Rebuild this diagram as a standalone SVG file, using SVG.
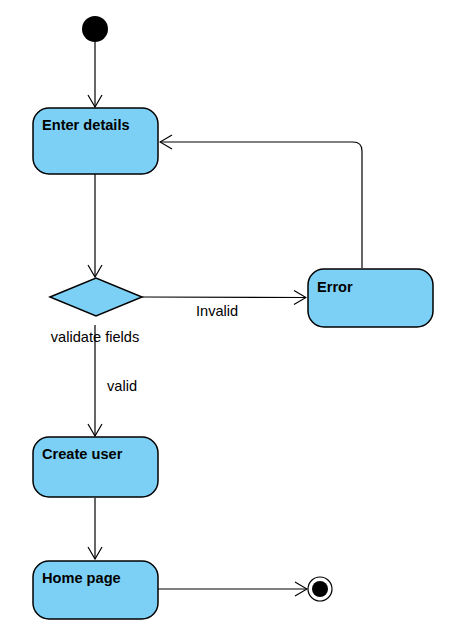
<svg xmlns="http://www.w3.org/2000/svg" width="450" height="637" viewBox="0 0 450 637">
<style>
.state{fill:#7dd0f5;stroke:#000;stroke-width:1.5}
.title{font-family:"Liberation Sans",Arial,sans-serif;font-size:14.6px;font-weight:bold;fill:#000}
.lbl{font-family:"Liberation Sans",Arial,sans-serif;font-size:14.6px;fill:#000}
.edge{fill:none;stroke:#000;stroke-width:1.2}
</style>
<defs>
<marker id="open" markerWidth="14" markerHeight="16" refX="13" refY="8" orient="auto" markerUnits="userSpaceOnUse">
<path d="M1,1 L13,8 L1,15" fill="none" stroke="#000" stroke-width="1.2"/>
</marker>
</defs>
<rect width="450" height="637" fill="#fff"/>
<g id="connectors">
<line class="edge" x1="95" y1="42" x2="95" y2="107" marker-end="url(#open)"/>
<line class="edge" x1="95" y1="174" x2="95" y2="277" marker-end="url(#open)"/>
<line class="edge" x1="142" y1="297" x2="306" y2="297.5" marker-end="url(#open)"/>
<path class="edge" d="M362,268 L362,151 Q362,142 353,142 L160,142" marker-end="url(#open)"/>
<line class="edge" x1="95" y1="325" x2="95" y2="436" marker-end="url(#open)"/>
<line class="edge" x1="95" y1="498" x2="95" y2="559" marker-end="url(#open)"/>
<line class="edge" x1="158" y1="589" x2="307" y2="589" marker-end="url(#open)"/>
<text class="lbl" x="196" y="316">Invalid</text>
<text class="lbl" x="107" y="391">valid</text>
</g>
<g id="start"><circle cx="95" cy="29" r="13" fill="#000"/></g>
<g id="enter-details">
<rect class="state" x="33" y="108" width="125" height="66" rx="16"/>
<text class="title" x="42" y="130">Enter details</text>
</g>
<g id="validate">
<polygon class="state" points="50,297 96,278 142,297 96,316"/>
<text class="lbl" x="95" y="342" text-anchor="middle">validate fields</text>
</g>
<g id="error">
<rect class="state" x="308" y="269" width="125" height="58" rx="16"/>
<text class="title" x="317" y="292">Error</text>
</g>
<g id="create-user">
<rect class="state" x="33" y="437" width="125" height="60" rx="16"/>
<text class="title" x="42" y="459">Create user</text>
</g>
<g id="home-page">
<rect class="state" x="33" y="561" width="125" height="58" rx="16"/>
<text class="title" x="42" y="583">Home page</text>
</g>
<g id="end">
<circle cx="320" cy="589" r="12" fill="#fff" stroke="#000" stroke-width="1.2"/>
<circle cx="320" cy="589" r="8" fill="#000"/>
</g>
</svg>
